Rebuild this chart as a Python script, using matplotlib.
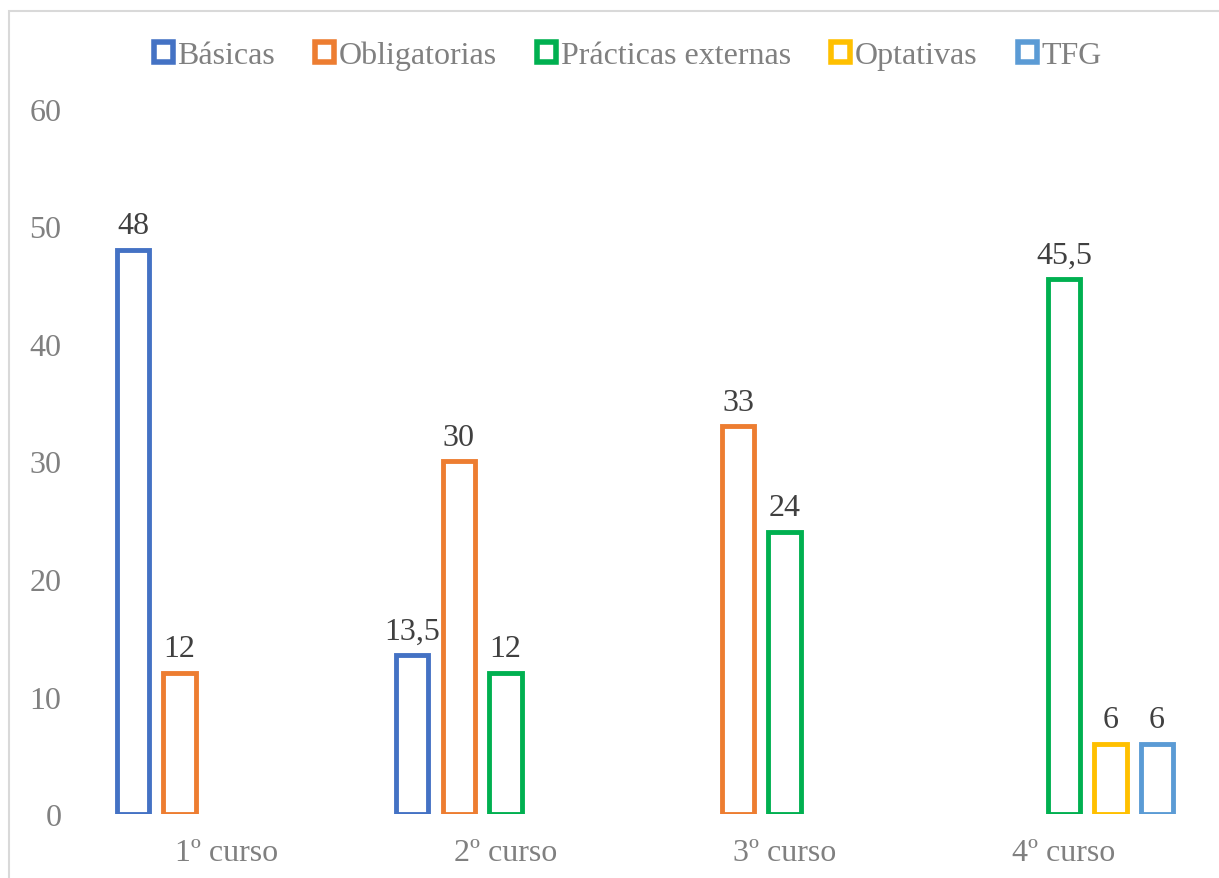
import numpy as np
import matplotlib.pyplot as plt
from matplotlib.patches import Rectangle

plt.rcParams['font.family'] = ['Liberation Serif', 'DejaVu Serif']

cursos = ["1º curso", "2º curso", "3º curso", "4º curso"]
series = ["Básicas", "Obligatorias", "Prácticas externas", "Optativas", "TFG"]
basicas = [48, 13.5, 0, 0]
obligatorias = [12, 30, 33, 0]
practicas = [0, 12, 24, 45.5]
optativas = [0, 0, 0, 6]
tfg = [0, 0, 0, 6]
valores = [basicas, obligatorias, practicas, optativas, tfg]
colores = ["#4472C4", "#ED7D31", "#00B050", "#FFC000", "#5B9BD5"]


def fmt(v):
    s = f"{v:g}"
    return s.replace(".", ",")


fig = plt.figure(figsize=(12.19, 8.79), dpi=100)
ax = fig.add_axes([0.0709, 0.0728, 0.9164, 0.8021])

x = np.arange(len(cursos))
slot = 1 / 6
ancho = 0.116
fs = 23

handles = []
for i, (nombre, vals, c) in enumerate(zip(series, valores, colores)):
    pos = x + (i - 2) * slot
    vals = np.array(vals, dtype=float)
    m = vals > 0
    bars = ax.bar(pos[m], vals[m], width=ancho, facecolor="white",
                  edgecolor=c, linewidth=3.5, label=nombre)
    handles.append(bars)
    for px, v in zip(pos[m], vals[m]):
        ax.annotate(fmt(v), (px, v), xytext=(0, 7), textcoords="offset points",
                    ha="center", va="bottom", fontsize=fs, color="#404040")

ax.set_xlim(-0.5, 3.5)
ax.set_ylim(0, 60)
ax.set_yticks([0, 10, 20, 30, 40, 50, 60])
ax.set_xticks(x)
ax.set_xticklabels(cursos)
ax.tick_params(axis="both", length=0, labelsize=fs, labelcolor="#808080")
ax.tick_params(axis="y", pad=18)
ax.tick_params(axis="x", pad=17)
for s in ax.spines.values():
    s.set_visible(False)

leg = fig.legend(handles=handles, labels=series, loc="center",
                 bbox_to_anchor=(0.515, 0.936), ncol=5, frameon=False,
                 fontsize=fs, handlelength=0.6, handleheight=0.6,
                 handletextpad=0.15, columnspacing=1.25, borderaxespad=0)
for t in leg.get_texts():
    t.set_color("#808080")
for h in leg.legend_handles:
    h.set_linewidth(4.0)

fig.patches.append(Rectangle((9 / 1219, -0.1), 1.2, 1 - 12 / 879 + 0.1,
                             transform=fig.transFigure, fill=False,
                             edgecolor="#d9d9d9", linewidth=1.5))

fig.savefig("out.png", dpi=100)
